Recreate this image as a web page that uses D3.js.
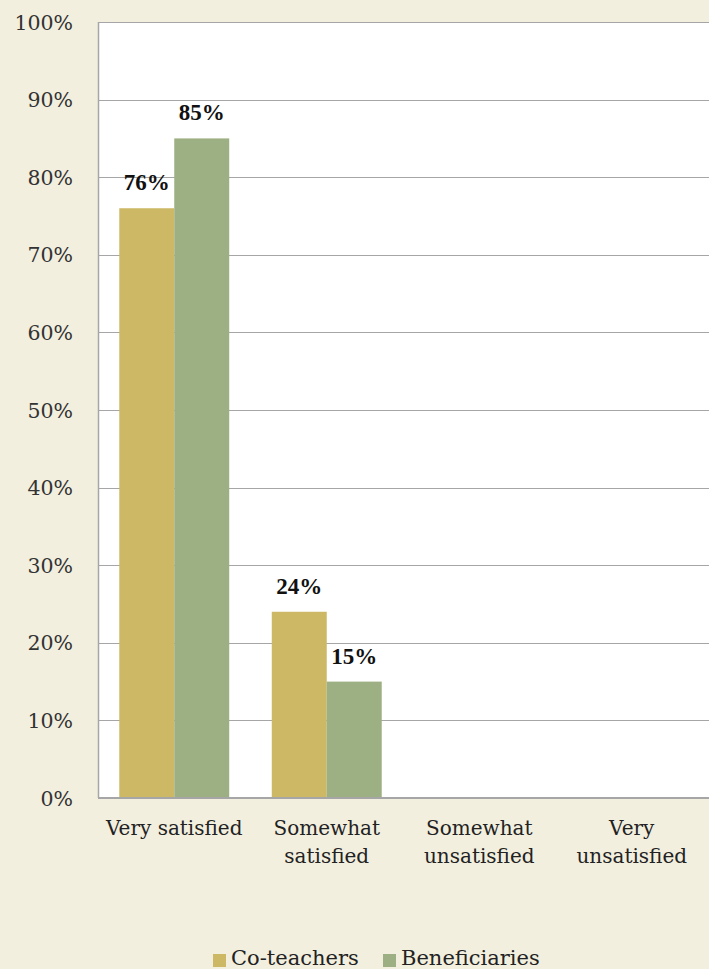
<!DOCTYPE html>
<html><head><meta charset="utf-8">
<script src="https://cdn.jsdelivr.net/npm/d3@7"></script>
<style>body{margin:0;background:#f2efdf;}svg{display:block;} text{font-family:"DejaVu Serif",serif;} text.lbl{font-family:"Liberation Serif","Times New Roman",serif;}</style>
</head><body>
<svg id="c" width="709" height="969"></svg>
<script>
const categories = [["Very satisfied"], ["Somewhat", "satisfied"], ["Somewhat", "unsatisfied"], ["Very", "unsatisfied"]];
const categoryKeys = ["Very satisfied", "Somewhat satisfied", "Somewhat unsatisfied", "Very unsatisfied"];
const seriesNames = ["Co-teachers", "Beneficiaries"];
const coTeachers = [76, 24, null, null];
const beneficiaries = [85, 15, null, null];
const yTicks = [0, 10, 20, 30, 40, 50, 60, 70, 80, 90, 100];
const colors = ["#cdb866", "#9db083"];

const svg = d3.select("#c");
const W = 709, H = 969;
const m = {left: 98, right: 1, top: 22, bottom: 171};
const innerH = H - m.top - m.bottom;

svg.append("rect").attr("width", W).attr("height", H).attr("fill", "#f2efdf");

const x0 = d3.scaleBand().domain(categoryKeys).range([m.left, W - m.right]).paddingInner(0.279).paddingOuter(0.1395);
const x1 = d3.scaleBand().domain(seriesNames).range([0, x0.bandwidth()]);
const y = d3.scaleLinear().domain([0, 100]).range([H - m.bottom, m.top]);

svg.append("rect").attr("x", m.left).attr("y", m.top).attr("width", W - m.left).attr("height", innerH).attr("fill", "#ffffff");

svg.append("g").selectAll("line").data(yTicks.filter(d => d > 0)).join("line")
  .attr("x1", m.left).attr("x2", W).attr("y1", d => Math.round(y(d)) + 0.5).attr("y2", d => Math.round(y(d)) + 0.5)
  .attr("stroke", "#a6a6a6").attr("stroke-width", 1);

const yAxis = d3.axisLeft(y).tickValues(yTicks).tickFormat(d => d + "%").tickSize(0).tickPadding(25);
const gy = svg.append("g").attr("transform", `translate(${m.left},0)`).call(yAxis);
gy.select(".domain").remove();
gy.attr("font-family", null);
gy.selectAll("text").attr("font-size", 20.5).attr("fill", "#333").attr("dy", "0.35em");

const series = [coTeachers, beneficiaries];
const g = svg.append("g");
series.forEach((vals, si) => {
  const data = categoryKeys.map((k, i) => ({k, v: vals[i]})).filter(d => d.v != null);
  g.selectAll(null).data(data).join("rect")
    .attr("x", d => x0(d.k) + x1(seriesNames[si]))
    .attr("y", d => y(d.v))
    .attr("width", x1.bandwidth())
    .attr("height", d => y(0) - y(d.v))
    .attr("fill", colors[si]);
  g.selectAll(null).data(data).join("text")
    .attr("class", "lbl")
    .attr("x", d => x0(d.k) + x1(seriesNames[si]) + x1.bandwidth() / 2)
    .attr("y", d => y(d.v) - 18)
    .attr("text-anchor", "middle")
    .attr("font-weight", "bold").attr("font-size", 23)
    .attr("fill", "#111")
    .text(d => d.v + "%");
});

svg.append("line").attr("x1", m.left + 0.5).attr("x2", m.left + 0.5).attr("y1", m.top).attr("y2", y(0)).attr("stroke", "#a6a6a6").attr("stroke-width", 1.5);
svg.append("line").attr("x1", m.left).attr("x2", W).attr("y1", y(0)).attr("y2", y(0)).attr("stroke", "#a6a6a6").attr("stroke-width", 2);

const xl = svg.append("g");
categoryKeys.forEach((k, i) => {
  const t = xl.append("text").attr("x", x0(k) + x0.bandwidth() / 2).attr("y", 835)
    .attr("text-anchor", "middle").attr("font-size", 20).attr("fill", "#222");
  categories[i].forEach((line, j) => {
    t.append("tspan").attr("x", x0(k) + x0.bandwidth() / 2).attr("dy", j === 0 ? 0 : 28).text(line);
  });
});

const legend = svg.append("g");
const legX = [213, 383];
seriesNames.forEach((n, i) => {
  legend.append("rect").attr("x", legX[i]).attr("y", 954).attr("width", 13).attr("height", 13).attr("fill", colors[i]);
  legend.append("text").attr("x", legX[i] + 18).attr("y", 965)
    .attr("font-size", 21).attr("fill", "#222").text(n);
});
</script>
</body></html>
